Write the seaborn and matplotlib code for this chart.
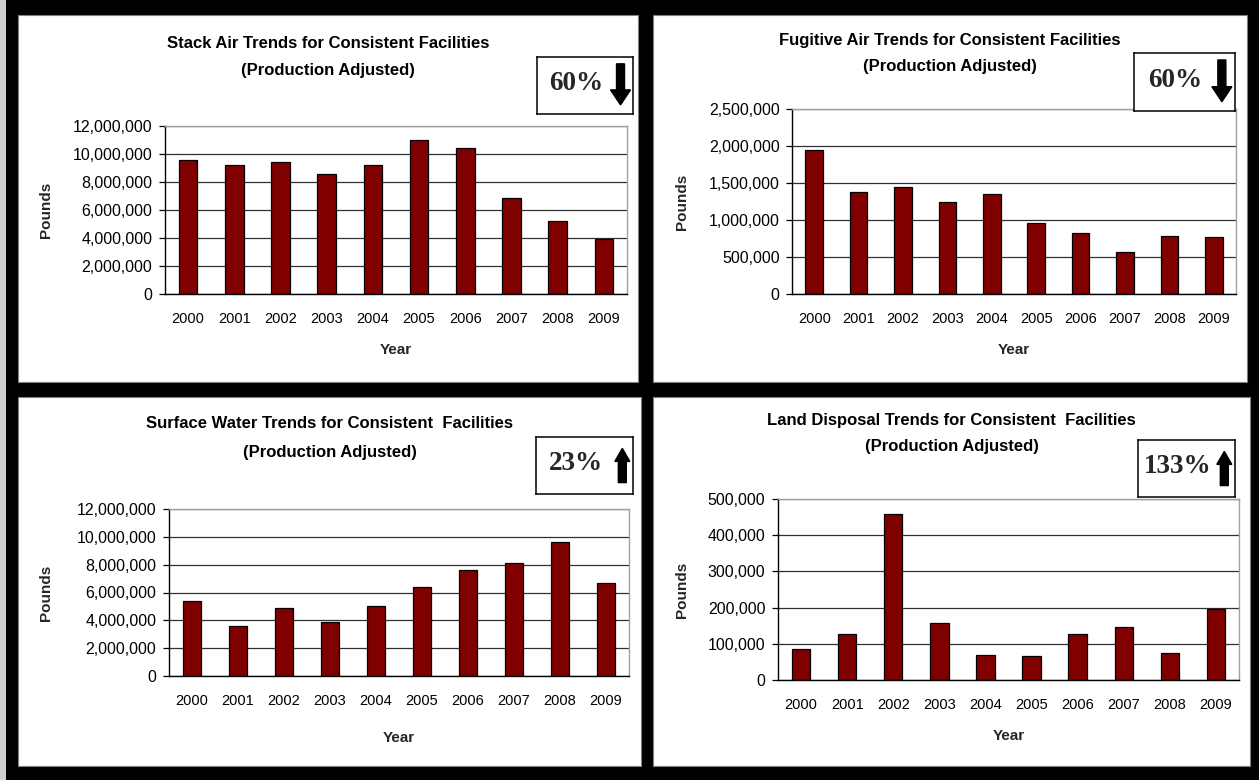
import matplotlib
matplotlib.use("Agg")
import matplotlib.pyplot as plt
from matplotlib.patches import Rectangle, Polygon
from matplotlib.ticker import FuncFormatter, FixedLocator
import seaborn as sns
import pandas as pd

# ---- data -------------------------------------------------------------
years = ["2000", "2001", "2002", "2003", "2004", "2005", "2006", "2007", "2008", "2009"]

stack_air = [9600000, 9200000, 9400000, 8600000, 9200000, 11000000, 10400000, 6850000, 5200000, 3900000]
fugitive_air = [1940000, 1375000, 1450000, 1245000, 1355000, 965000, 830000, 565000, 790000, 772000]
surface_water = [5400000, 3620000, 4900000, 3900000, 5020000, 6420000, 7620000, 8100000, 9620000, 6700000]
land_disposal = [85000, 127000, 458000, 158000, 70000, 65000, 127000, 146000, 74000, 196000]

title_main = [
    "Stack Air Trends for Consistent Facilities",
    "Fugitive Air Trends for Consistent Facilities",
    "Surface Water Trends for Consistent  Facilities",
    "Land Disposal Trends for Consistent  Facilities",
]
title_sub = "(Production Adjusted)"
badge_labels = ["60%", "60%", "23%", "133%"]
badge_dirs = ["down", "down", "up", "up"]
y_maxima = [12000000, 2500000, 12000000, 500000]
y_steps = [2000000, 500000, 2000000, 100000]

series = [stack_air, fugitive_air, surface_water, land_disposal]

# ---- figure layout (pixel boxes: x0, y0, x1, y1 measured from top-left) ----
W, H = 1259, 780
sns.set_style("white")
plt.rcParams["font.family"] = ["Liberation Sans", "DejaVu Sans"]

fig = plt.figure(figsize=(W / 100, H / 100), dpi=100, facecolor="black")


def box(x0, y0, x1, y1):
    return [x0 / W, 1 - y1 / H, (x1 - x0) / W, (y1 - y0) / H]


panel_boxes = [(18, 15, 638, 382), (653, 15, 1247, 382), (18, 397, 641, 766), (653, 397, 1250, 766)]
plot_boxes = [(165, 126, 627, 294), (792, 109, 1236, 294), (169, 509, 629, 676), (778, 499, 1239, 680)]
badge_boxes = [(537, 57, 633, 114), (1134, 53, 1235, 111), (536, 437, 633, 494), (1138, 440, 1235, 497)]
title_y = [(43, 71), (41, 67), (424, 452), (420, 446)]
year_y = [350, 350, 738, 736]
pounds_x = [46, 682, 46, 682]

# light strip on the far left edge
fig.add_artist(Rectangle((0, 0), 6 / W, 1, transform=fig.transFigure,
                         facecolor="#d0d0d0", edgecolor="none", zorder=-2))

for i in range(4):
    px0, py0, px1, py1 = panel_boxes[i]
    fig.add_artist(Rectangle((px0 / W, 1 - py1 / H), (px1 - px0) / W, (py1 - py0) / H,
                             transform=fig.transFigure, facecolor="white",
                             edgecolor="#808080", linewidth=0.8, zorder=-1))

    ax = fig.add_axes(box(*plot_boxes[i]))
    df = pd.DataFrame({"Year": years, "Pounds": series[i]})
    sns.barplot(data=df, x="Year", y="Pounds", color="#800000", saturation=1,
                edgecolor="black", linewidth=0.9, width=0.4, ax=ax)

    ax.set_xlim(-0.5, len(years) - 0.5)
    ax.set_ylim(0, y_maxima[i])
    ax.set_yticks(range(0, y_maxima[i] + 1, y_steps[i]))
    ax.yaxis.set_major_formatter(FuncFormatter(lambda v, p: f"{v:,.0f}"))
    ax.set_axisbelow(True)
    ax.yaxis.grid(True, color="#303030", linewidth=0.9)
    ax.xaxis.grid(False)

    # category boundary ticks below the axis, labels centred under the bars
    ax.xaxis.set_minor_locator(FixedLocator([k - 0.5 for k in range(len(years) + 1)]))
    ax.tick_params(axis="x", which="minor", length=5, width=0.9, color="black", direction="out")
    ax.tick_params(axis="x", which="major", length=0, pad=13, labelsize=10.5, labelcolor="black")
    ax.tick_params(axis="y", which="major", length=4, width=0.9, color="black",
                   direction="out", pad=5, labelsize=11.5, labelcolor="black")
    ax.tick_params(left=True, bottom=True)

    for s in ("left", "bottom"):
        ax.spines[s].set_color("black")
        ax.spines[s].set_linewidth(1.0)
    for s in ("top", "right"):
        ax.spines[s].set_visible(True)
        ax.spines[s].set_color("#a0a0a0")
        ax.spines[s].set_linewidth(1.0)

    ax.set_xlabel("")
    ax.set_ylabel("")
    ax.set_facecolor("white")

    cx = (px0 + px1) / 2
    fig.text(cx / W, 1 - title_y[i][0] / H, title_main[i], ha="center", va="center",
             fontsize=12, fontweight="bold", color="black")
    fig.text(cx / W, 1 - title_y[i][1] / H, title_sub, ha="center", va="center",
             fontsize=12, fontweight="bold", color="black")

    bx0, by0, bx1, by1 = plot_boxes[i]
    fig.text(((bx0 + bx1) / 2) / W, 1 - year_y[i] / H, "Year", ha="center", va="center",
             fontsize=11, fontweight="bold")
    fig.text(pounds_x[i] / W, 1 - ((by0 + by1) / 2) / H, "Pounds", ha="center", va="center",
             rotation=90, fontsize=11, fontweight="bold")

    # change badge
    gx0, gy0, gx1, gy1 = badge_boxes[i]
    bax = fig.add_axes(box(*badge_boxes[i]))
    bax.set_xlim(0, gx1 - gx0)
    bax.set_ylim(gy1 - gy0, 0)
    bax.set_xticks([])
    bax.set_yticks([])
    bax.set_facecolor("white")
    for s in bax.spines.values():
        s.set_visible(True)
        s.set_color("black")
        s.set_linewidth(1.1)
    bw, bh = gx1 - gx0, gy1 - gy0
    bax.text(bw * 0.41, bh * 0.47, badge_labels[i], ha="center", va="center",
             family=["Liberation Serif", "DejaVu Serif"], fontweight="bold", fontsize=19.5)
    ax_c = bw * 0.87
    shaft = 4.0
    head = 10.0
    top, bot = bh * 0.12, bh * 0.84
    if badge_dirs[i] == "down":
        hy = bot - 15
        pts = [(ax_c - shaft, top), (ax_c + shaft, top), (ax_c + shaft, hy), (ax_c + head, hy),
               (ax_c, bot), (ax_c - head, hy), (ax_c - shaft, hy)]
    else:
        ax_c = bw * 0.89
        top, bot = bh * 0.2, bh * 0.8
        hy = top + 13
        head = 7.5
        pts = [(ax_c - shaft, bot), (ax_c + shaft, bot), (ax_c + shaft, hy), (ax_c + head, hy),
               (ax_c, top), (ax_c - head, hy), (ax_c - shaft, hy)]
    bax.add_patch(Polygon(pts, closed=True, facecolor="black", edgecolor="black"))

fig.savefig("out.png", dpi=100, facecolor=fig.get_facecolor())
